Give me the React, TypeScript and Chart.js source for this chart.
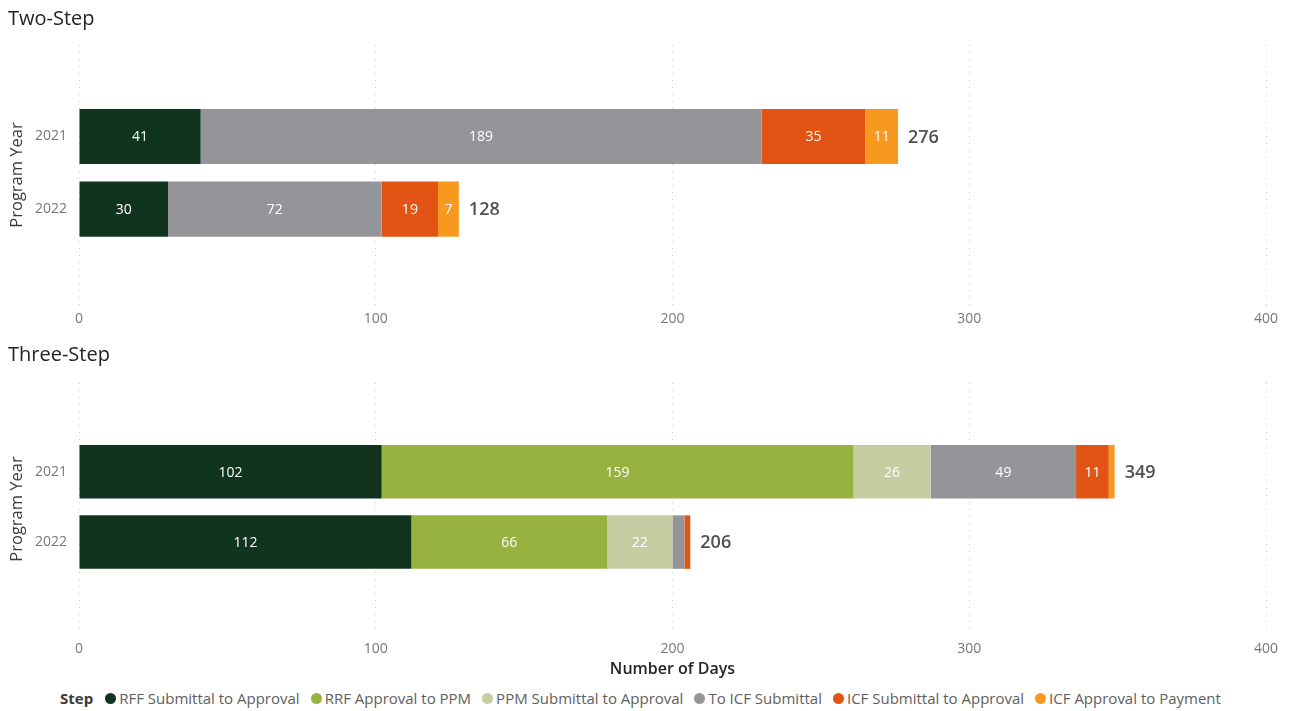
import React, { useEffect, useRef } from 'react';
import { Chart, registerables } from 'chart.js';

Chart.register(...registerables);

const FONT = '"Segoe UI", "Open Sans", "Noto Sans", sans-serif';

const years = ['2021', '2022'];
const steps = [
  'RFF Submittal to Approval',
  'RRF Approval to PPM',
  'PPM Submittal to Approval',
  'To ICF Submittal',
  'ICF Submittal to Approval',
  'ICF Approval to Payment',
];
const stepColors = ['#11341F', '#98B23F', '#C6CCA1', '#949598', '#E25414', '#F8991F'];
const xTicks = [0, 100, 200, 300, 400];

// Two-Step values per program year (2021, 2022); null = step not used
const twoRFF = [41, 30];
const twoRRFtoPPM = [null, null];
const twoPPM = [null, null];
const twoToICF = [189, 72];
const twoICFSub = [35, 19];
const twoICFPay = [11, 7];

// Three-Step values per program year (2021, 2022)
const threeRFF = [102, 112];
const threeRRFtoPPM = [159, 66];
const threePPM = [26, 22];
const threeToICF = [49, 4];
const threeICFSub = [11, 2];
const threeICFPay = [2, 0];

const twoStepSeries = [twoRFF, twoRRFtoPPM, twoPPM, twoToICF, twoICFSub, twoICFPay];
const threeStepSeries = [threeRFF, threeRRFtoPPM, threePPM, threeToICF, threeICFSub, threeICFPay];

const labelsPlugin = {
  id: 'segmentLabels',
  afterDatasetsDraw(chart: any) {
    const ctx = chart.ctx;
    ctx.save();
    ctx.font = `14px ${FONT}`;
    ctx.fillStyle = '#ffffff';
    ctx.textAlign = 'center';
    ctx.textBaseline = 'middle';
    chart.data.datasets.forEach((ds: any, di: number) => {
      const meta = chart.getDatasetMeta(di);
      meta.data.forEach((el: any, i: number) => {
        const v = ds.data[i].x;
        if (v == null) return;
        const { x, base, y } = el.getProps(['x', 'base', 'y'], true);
        if (Math.abs(x - base) < 16) return;
        ctx.fillText(String(v), (x + base) / 2, y + 1);
      });
    });
    ctx.font = `600 18px ${FONT}`;
    ctx.fillStyle = '#4F5157';
    ctx.textAlign = 'left';
    years.forEach((_, i) => {
      let total = 0;
      chart.data.datasets.forEach((ds: any) => {
        const v = ds.data[i].x;
        if (v != null) total += v;
      });
      const xEnd = chart.scales.x.getPixelForValue(total);
      const y = chart.scales.y.getPixelForValue(i);
      ctx.fillText(String(total), xEnd + 10, y + 1);
    });
    ctx.restore();
  },
};

function buildConfig(series: (number | null)[][], padTop: number, xHeight: number, showXTitle: boolean): any {
  const datasets = series
    .map((vals, si) => ({
      label: steps[si],
      data: vals.map((v, i) => ({ x: v, y: i })),
      backgroundColor: stepColors[si],
      borderWidth: 0,
      stack: 'days',
      categoryPercentage: 1,
      barPercentage: 0.76,
    }))
    .filter((d) => d.data.some((p) => p.x !== null));
  return {
    type: 'bar',
    data: { datasets },
    plugins: [labelsPlugin],
    options: {
      indexAxis: 'y',
      responsive: false,
      animation: false,
      devicePixelRatio: 1,
      layout: { padding: { left: 0, right: 25, top: padTop, bottom: 0 } },
      plugins: { legend: { display: false }, tooltip: { enabled: false }, title: { display: false } },
      scales: {
        x: {
          type: 'linear',
          stacked: true,
          min: 0,
          max: 400,
          afterBuildTicks: (scale: any) => {
            scale.ticks = xTicks.map((v) => ({ value: v }));
          },
          afterFit: (scale: any) => {
            scale.height = xHeight;
          },
          grid: { color: '#C8C8C8', lineWidth: 1, drawTicks: false },
          border: { display: false, dash: [1, 6] },
          ticks: { color: '#777777', font: { family: FONT, size: 14 }, padding: 6 },
          title: {
            display: showXTitle,
            text: 'Number of Days',
            color: '#252423',
            font: { family: FONT, size: 16, weight: '600' },
            padding: { top: 0, bottom: 1 },
          },
        },
        y: {
          type: 'linear',
          bounds: 'data',
          offset: false,
          grace: 0,
          reverse: true,
          min: -1.26,
          max: 2.32,
          afterBuildTicks: (scale: any) => {
            scale.ticks = years.map((_, i) => ({ value: i }));
          },
          afterFit: (scale: any) => {
            scale.width = 79;
          },
          grid: { display: false, drawTicks: false, offset: false },
          border: { display: false },
          ticks: {
            color: '#777777',
            font: { family: FONT, size: 14 },
            padding: 12,
            callback: (v: any) => years[v] ?? '',
          },
          title: {
            display: true,
            text: 'Program Year',
            color: '#3B3A39',
            font: { family: FONT, size: 16.5 },
            padding: { top: 7, bottom: 0 },
          },
        },
      },
    },
  };
}

function StackChart(props: { series: (number | null)[][]; top: number; height: number; padTop: number; xHeight: number; showXTitle: boolean }) {
  const ref = useRef<HTMLCanvasElement>(null);
  useEffect(() => {
    if (!ref.current) return;
    const chart = new Chart(ref.current, buildConfig(props.series, props.padTop, props.xHeight, props.showXTitle));
    return () => chart.destroy();
  }, []);
  return (
    <canvas
      ref={ref}
      width={1291}
      height={props.height}
      style={{ position: 'absolute', left: 0, top: props.top, width: 1291, height: props.height }}
    />
  );
}

export default function App() {
  const titleStyle: React.CSSProperties = {
    position: 'absolute',
    left: 8,
    fontFamily: FONT,
    fontSize: 20,
    lineHeight: '24px',
    color: '#252423',
    whiteSpace: 'nowrap',
  };
  return (
    <div style={{ position: 'absolute', left: 0, top: 0, width: 1291, height: 711, background: '#fff', overflow: 'hidden' }}>
      <StackChart series={twoStepSeries} top={0} height={335} padTop={45} xHeight={30} showXTitle={false} />
      <StackChart series={threeStepSeries} top={335} height={345} padTop={48} xHeight={45} showXTitle={true} />
      <div style={{ ...titleStyle, top: 6 }}>Two-Step</div>
      <div style={{ ...titleStyle, top: 342 }}>Three-Step</div>
      <div
        style={{
          position: 'absolute',
          left: 60,
          top: 688,
          height: 20,
          display: 'flex',
          alignItems: 'center',
          fontFamily: FONT,
          fontSize: 15,
          color: '#605E5C',
          whiteSpace: 'nowrap',
        }}
      >
        <span style={{ fontWeight: 700, color: '#3B3A39', marginRight: 12 }}>Step</span>
        {steps.map((s, i) => (
          <span key={s} style={{ display: 'flex', alignItems: 'center', marginRight: i < steps.length - 1 ? 11 : 0 }}>
            <span
              style={{ width: 11, height: 11, borderRadius: 6, background: stepColors[i], display: 'inline-block', marginRight: 3 }}
            />
            {s}
          </span>
        ))}
      </div>
    </div>
  );
}
